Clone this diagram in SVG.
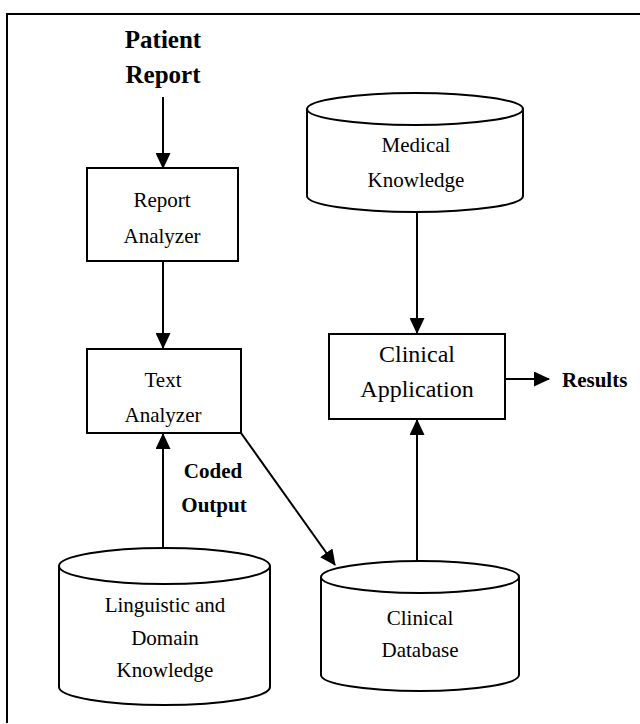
<svg xmlns="http://www.w3.org/2000/svg" width="640" height="724" viewBox="0 0 640 724">
<defs>
<marker id="ah" markerUnits="userSpaceOnUse" markerWidth="16" markerHeight="15" refX="15" refY="7.5" orient="auto">
<path d="M0,0 L16,7.5 L0,15 Z" fill="#000"/>
</marker>
<style>
.box{fill:#fff;stroke:#000;stroke-width:2}
.cyl{fill:#fff;stroke:#000;stroke-width:2}
.lbl{font-family:"Liberation Serif","Times New Roman",serif;font-size:21px;fill:#000;text-anchor:middle}
.bold{font-family:"Liberation Serif","Times New Roman",serif;font-weight:bold;fill:#000}
.edge{stroke:#000;stroke-width:2;fill:none;marker-end:url(#ah)}
.frame{stroke:#000;stroke-width:2;fill:none}
</style>
</defs>
<rect width="640" height="724" fill="#fff"/>
<path class="frame" d="M7,723 L7,14 L640,14"/>

<g id="patient-report">
<text class="bold" x="163" y="48" font-size="25" text-anchor="middle">Patient</text>
<text class="bold" x="163" y="83" font-size="25" text-anchor="middle">Report</text>
</g>

<g id="report-analyzer">
<rect class="box" x="87" y="168" width="151" height="93"/>
<text class="lbl" x="162" y="207">Report</text>
<text class="lbl" x="162" y="243">Analyzer</text>
</g>

<g id="text-analyzer">
<rect class="box" x="87" y="349" width="154" height="84"/>
<text class="lbl" x="163" y="387">Text</text>
<text class="lbl" x="163" y="422">Analyzer</text>
</g>

<g id="linguistic-knowledge">
<path class="cyl" d="M59,566 L59,687 A105.5,18 0 0 0 270,687 L270,566 A105.5,18 0 0 0 59,566 Z"/>
<path class="cyl" d="M59,566 A105.5,18 0 0 0 270,566" fill="none"/>
<text class="lbl" x="165" y="612">Linguistic and</text>
<text class="lbl" x="165" y="645">Domain</text>
<text class="lbl" x="165" y="677">Knowledge</text>
</g>

<g id="medical-knowledge">
<path class="cyl" d="M307,109 L307,196 A108,16 0 0 0 523,196 L523,109 A108,16 0 0 0 307,109 Z"/>
<path class="cyl" d="M307,109 A108,16 0 0 0 523,109" fill="none"/>
<text class="lbl" x="416" y="152">Medical</text>
<text class="lbl" x="416" y="187">Knowledge</text>
</g>

<g id="clinical-application">
<rect class="box" x="329" y="334" width="176" height="85"/>
<text class="lbl" style="font-size:24px" x="417" y="362">Clinical</text>
<text class="lbl" style="font-size:24px" x="417" y="397">Application</text>
</g>

<g id="results">
<text class="bold" x="562" y="387" font-size="21">Results</text>
</g>

<g id="clinical-database">
<path class="cyl" d="M321,577 L321,675 A99,16 0 0 0 519,675 L519,577 A99,16 0 0 0 321,577 Z"/>
<path class="cyl" d="M321,577 A99,16 0 0 0 519,577" fill="none"/>
<text class="lbl" x="420" y="625">Clinical</text>
<text class="lbl" x="420" y="657">Database</text>
</g>

<g id="coded-output-label">
<text class="bold" x="213" y="478" font-size="21" text-anchor="middle">Coded</text>
<text class="bold" x="214" y="512" font-size="21" text-anchor="middle">Output</text>
</g>

<g id="connectors">
<line class="edge" x1="163" y1="97" x2="163" y2="168"/>
<line class="edge" x1="163" y1="262" x2="163" y2="348"/>
<line class="edge" x1="163" y1="548" x2="163" y2="434"/>
<line class="edge" x1="241" y1="433" x2="335" y2="565"/>
<line class="edge" x1="417" y1="212" x2="417" y2="333"/>
<line class="edge" x1="417" y1="561" x2="417" y2="420"/>
<line class="edge" x1="505" y1="379" x2="549" y2="379"/>
</g>
</svg>
